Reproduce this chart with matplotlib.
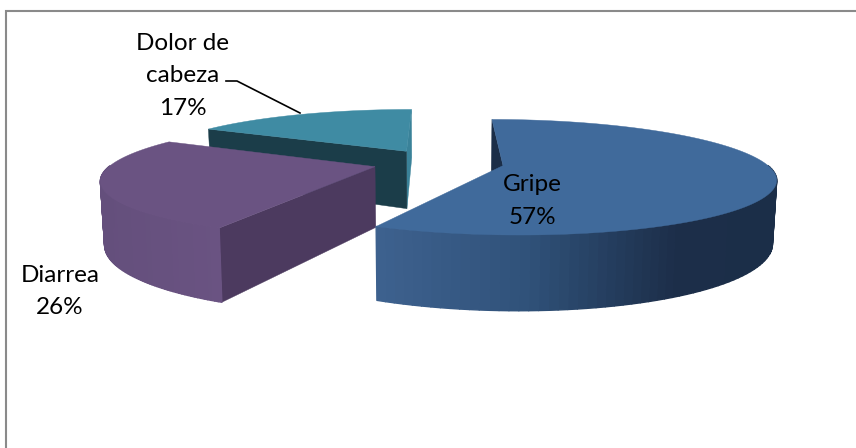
import numpy as np
import matplotlib
matplotlib.use('Agg')
import matplotlib.pyplot as plt
from matplotlib.collections import PolyCollection
from matplotlib.colors import to_rgb

labels = ['Gripe', 'Diarrea', 'Dolor de\ncabeza']
values = [57.2, 25.9, 16.9]
top_colors = ['#406a9b', '#6a5382', '#3f8ba3']
start_face = ['#1b2e48', '#4c3a5f', '#1b3d49']
end_face = [None, None, '#3a8299']
side_stops = [[(377, '#3e628f'), (530, '#30527a'), (680, '#1c2e49'), (776, '#1b2e48')],
              [(100, '#644f7c'), (222, '#6a5382')],
              None]
label_pos = [(532, 201), (60, 291.5), (183, 76)]

# perspective of the 3d pie, fitted on the picture
VP_X, VP_Y = 437, -110
DEPTH = 1317
TOP = 287
HEIGHT = 63
RADIUS = 276
EXPLODE = 69
CX, CY = 1.5, 70


def project(X, Y, z=0.0):
    s = 1 / (1 + np.asarray(Y) / DEPTH)
    x = VP_X + np.asarray(X) * s * (1 - 0.0125 * z)
    y = VP_Y + (TOP + HEIGHT * z) * s
    return x, y


def side_color(stops, x):
    xs = [p[0] for p in stops]
    rgb = [to_rgb(p[1]) for p in stops]
    return [np.interp(x, xs, [c[i] for c in rgb]) for i in range(3)]


def cut_face(ox, oy, angle, color, z):
    ex, ey = ox + RADIUS * np.sin(angle), oy + RADIUS * np.cos(angle)
    px0, py0 = project([ox, ex], [oy, ey], 0)
    px1, py1 = project([ex, ox], [ey, oy], 1)
    ax.fill(np.r_[px0, px1], np.r_[py0, py1], color=color, lw=0.3, zorder=z)


fig = plt.figure(figsize=(8.56, 4.48), dpi=100)
ax = fig.add_axes([0, 0, 1, 1])
ax.set_xlim(0, 856)
ax.set_ylim(448, 0)
ax.axis('off')

ax.plot([6, 6, 856], [448, 11, 11], color='#8a8a8a', lw=1.5, zorder=1, solid_joinstyle='miter')

total = sum(values)
starts = np.cumsum([0] + values[:-1]) / total * 2 * np.pi
ends = np.cumsum(values) / total * 2 * np.pi

# far slices first so the near ones cover them
for i in [2, 1, 0]:
    t0, t1 = starts[i], ends[i]
    mid = (t0 + t1) / 2
    ox = CX + EXPLODE * np.sin(mid)
    oy = CY + EXPLODE * np.cos(mid)
    t = np.linspace(t0, t1, 120)
    X = ox + RADIUS * np.sin(t)
    Y = oy + RADIUS * np.cos(t)
    z = {2: 5, 1: 7, 0: 9}[i]

    if end_face[i]:
        cut_face(ox, oy, t1, end_face[i], z)
    cut_face(ox, oy, t0, start_face[i], z + 0.1)

    # outer wall, only where it faces the viewer
    if side_stops[i] is not None:
        front = np.cos(t) < 0.02
        xt, yt = project(X[front], Y[front], 0)
        xb, yb = project(X[front], Y[front], 1)
        quads = [[(xt[k], yt[k]), (xt[k + 1], yt[k + 1]), (xb[k + 1], yb[k + 1]), (xb[k], yb[k])]
                 for k in range(len(xt) - 1)]
        cols = [side_color(side_stops[i], xt[k]) for k in range(len(xt) - 1)]
        ax.add_collection(PolyCollection(quads, facecolors=cols, edgecolors=cols, linewidths=1.0, zorder=z + 0.2))

    # top of the slice
    xt, yt = project(np.r_[ox, X], np.r_[oy, Y], 0)
    ax.fill(xt, yt, color=top_colors[i], lw=0.3, zorder=z + 0.5)

# leader of the small slice
ax.plot([226, 237, 300], [81, 81, 113], color='black', lw=1.2, zorder=20)

for i in range(3):
    ax.text(label_pos[i][0], label_pos[i][1], f'{labels[i]}\n{values[i]:.0f}%', ha='center', va='center',
            family='Lato', fontsize=17.5, linespacing=1.65, color='black', zorder=21)

fig.savefig('out.png', dpi=100)
